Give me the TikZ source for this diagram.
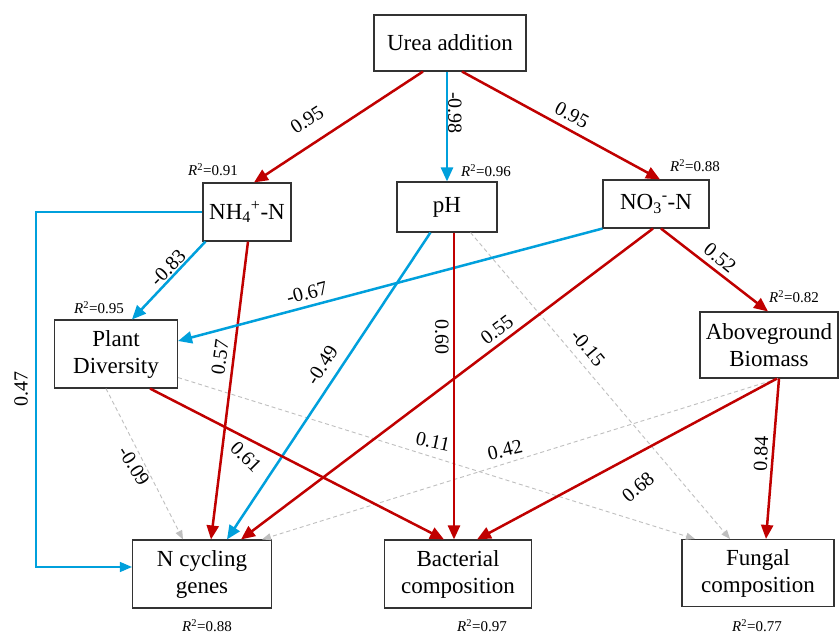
\documentclass[tikz,border=0pt]{standalone}
\usepackage{fontspec}
\setmainfont{Liberation Serif}
\usetikzlibrary{arrows.meta}
\definecolor{pred}{HTML}{C00000}
\definecolor{pblue}{HTML}{00A0DC}
\definecolor{pgray}{HTML}{BFBFBF}
\begin{document}
\begin{tikzpicture}[x=1pt,y=-1pt,
  box/.style={draw=black!80,line width=1.1pt,align=center,inner sep=0pt,fill=white,
    font=\fontsize{23}{27}\selectfont},
  posarrow/.style={draw=pred,line width=2.5pt,-{Triangle[length=14pt,width=12pt]}},
  negarrow/.style={draw=pblue,line width=2.5pt,-{Triangle[length=14pt,width=12pt]}},
  negthin/.style={draw=pblue,line width=1.4pt,-{Triangle[length=12pt,width=10pt]}},
  nsarrow/.style={draw=pgray,line width=0.9pt,dash pattern=on 4pt off 3pt,-{Triangle[length=9pt,width=7pt]}},
  coef/.style={font=\fontsize{20}{22}\selectfont,inner sep=0pt},
  rsq/.style={font=\fontsize{15}{17}\selectfont,inner sep=0pt}]
\useasboundingbox (0,0) rectangle (839,632);
\fill[white] (0,0) rectangle (839,632);

% boxes
\node[box,minimum width=152pt,minimum height=56pt] (urea) at (450,43) {Urea addition};
\node[box,minimum width=88pt,minimum height=58pt] (nh4) at (247,212) {NH\textsubscript{4}\textsuperscript{+}-N};
\node[box,minimum width=100pt,minimum height=50pt] (ph) at (447,207) {pH};
\node[box,minimum width=106pt,minimum height=48pt] (no3) at (656,204) {NO\textsubscript{3}\textsuperscript{-}-N};
\node[box,minimum width=123pt,minimum height=68pt] (plant) at (116,354) {Plant\\Diversity};
\node[box,minimum width=138pt,minimum height=66pt] (agb) at (769,345) {Aboveground\\Biomass};
\node[box,minimum width=139pt,minimum height=68pt] (ncyc) at (202,574) {N cycling\\genes};
\node[box,minimum width=147pt,minimum height=68pt] (bact) at (458,574) {Bacterial\\composition};
\node[box,minimum width=152pt,minimum height=67pt] (fung) at (758,573) {Fungal\\composition};

% R^2 labels
\node[rsq] (r1) at (213,170) {\textit{R}\textsuperscript{2}=0.91};
\node[rsq] (r2) at (486,171) {\textit{R}\textsuperscript{2}=0.96};
\node[rsq] (r3) at (695,166) {\textit{R}\textsuperscript{2}=0.88};
\node[rsq] (r4) at (99,308) {\textit{R}\textsuperscript{2}=0.95};
\node[rsq] (r5) at (794,297) {\textit{R}\textsuperscript{2}=0.82};
\node[rsq] (r6) at (207,626) {\textit{R}\textsuperscript{2}=0.88};
\node[rsq] (r7) at (482,626) {\textit{R}\textsuperscript{2}=0.97};
\node[rsq] (r8) at (757,626) {\textit{R}\textsuperscript{2}=0.77};

% non-significant paths
\draw[nsarrow] ([xshift=-27pt]ph.south east) -- ([xshift=-28pt]fung.north);
\draw[nsarrow] ([xshift=-10pt]plant.south) -- ([xshift=-19pt]ncyc.north);
\draw[nsarrow] ([yshift=11pt]plant.south east) -- ([xshift=-63pt]fung.north);
\draw[nsarrow] ([xshift=9pt]agb.south) -- ([xshift=60pt]ncyc.north);

% elbow path
\coordinate (elb) at (36,567);
\draw[negthin] (nh4.west) -| (elb) -- ([yshift=7pt]ncyc.west);

% significant paths
\draw[posarrow] ([xshift=-27pt]urea.south) -- ([xshift=7pt]nh4.north);
\draw[negarrow] ([xshift=-3pt]urea.south) -- (ph.north);
\draw[posarrow] ([xshift=12pt]urea.south) -- ([xshift=4pt]no3.north);
\draw[negarrow] ([xshift=3pt]nh4.south west) -- ([xshift=16pt]plant.north);
\draw[posarrow] ([xshift=1pt]nh4.south) -- ([xshift=9pt]ncyc.north);
\draw[negarrow] (no3.south west) -- ([yshift=13pt]plant.east);
\draw[negarrow] ([xshift=34pt]ph.south west) -- ([xshift=25pt]ncyc.north);
\draw[posarrow] ([xshift=7pt]ph.south) -- ([xshift=-4pt]bact.north);
\draw[posarrow] ([xshift=34pt]plant.south) -- ([xshift=-14pt]bact.north);
\draw[posarrow] ([xshift=-3pt]no3.south) -- ([xshift=39pt]ncyc.north);
\draw[posarrow] ([xshift=5pt]no3.south) -- ([xshift=-1pt]agb.north);
\draw[posarrow] ([xshift=8pt]agb.south) -- ([xshift=19pt]bact.north);
\draw[posarrow] ([xshift=10pt]agb.south) -- ([xshift=8pt]fung.north);

% coefficients
\node[coef,rotate=33] (c1) at (307,120) {0.95};
\node[coef,rotate=-90] (c2) at (455,113) {-0.98};
\node[coef,rotate=-28] (c3) at (572,115) {0.95};
\node[coef,rotate=46] (c4) at (168,268) {-0.83};
\node[coef,rotate=90] (c5) at (21,389) {0.47};
\node[coef,rotate=82] (c6) at (220,357) {0.57};
\node[coef,rotate=15] (c7) at (307,293) {-0.67};
\node[coef,rotate=57] (c8) at (322,365) {-0.49};
\node[coef,rotate=-90] (c9) at (442,337) {0.60};
\node[coef,rotate=37] (c10) at (497,330) {0.55};
\node[coef,rotate=-50] (c11) at (588,348) {-0.15};
\node[coef,rotate=-40] (c12) at (720,258) {0.52};
\node[coef,rotate=-58] (c13) at (134,466) {-0.09};
\node[coef,rotate=-45] (c14) at (246,457) {0.61};
\node[coef,rotate=-12] (c15) at (433,442) {0.11};
\node[coef,rotate=13] (c16) at (505,450) {0.42};
\node[coef,rotate=40] (c17) at (638,487) {0.68};
\node[coef,rotate=88] (c18) at (761,454) {0.84};
\end{tikzpicture}
\end{document}
